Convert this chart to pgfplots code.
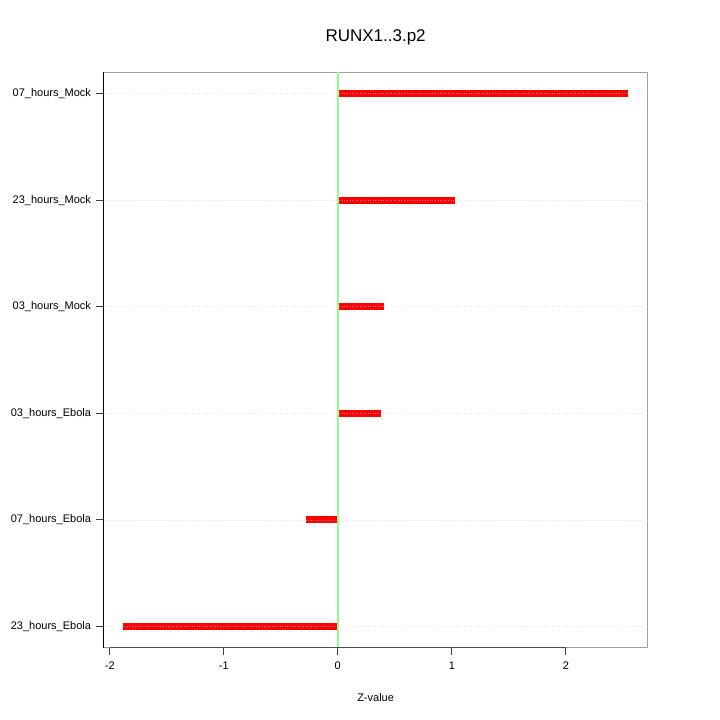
\documentclass[border=0pt]{standalone}
\usepackage{pgfplots}
\pgfplotsset{compat=1.18}
\usepackage{fontspec}
\setmainfont{Liberation Sans}
\definecolor{gridc}{RGB}{215,215,215}
\definecolor{boxc}{RGB}{160,160,160}
\definecolor{zgreen}{RGB}{140,255,140}
\begin{document}
\begin{tikzpicture}
\path[use as bounding box] (0,0) rectangle (720bp,720bp);
\begin{axis}[
  at={(103.5bp,72.3bp)}, anchor=south west,
  scale only axis, width=544.2bp, height=575.4bp,
  xmin=-2.055, xmax=2.718, ymin=0.8, ymax=6.2,
  axis line style={boxc, line width=1pt},
  xtick={-2,-1,0,1,2},
  ytick={1,2,3,4,5,6},
  yticklabels={23\_hours\_Ebola,07\_hours\_Ebola,03\_hours\_Ebola,03\_hours\_Mock,23\_hours\_Mock,07\_hours\_Mock},
  tick align=outside, tick pos=left,
  major tick length=7bp,
  tick style={black!75, line width=0.8pt},
  /pgf/number format/assume math mode=true,
  ticklabel style={font=\fontsize{11bp}{13bp}\selectfont},
  xticklabel style={yshift=-4bp},
  yticklabel style={xshift=-2bp},
  title={RUNX1..3.p2},
  title style={font=\fontsize{17bp}{20bp}\selectfont, at={(0.5,1)}, yshift=18bp, anchor=south},
  xlabel={Z-value},
  xlabel style={font=\fontsize{11bp}{13bp}\selectfont, yshift=-17bp},
  clip=false,
]
\addplot[red, line width=7.3bp, xcomb] coordinates {
  (-1.88,1) (-0.275,2) (0.383,3) (0.407,4) (1.032,5) (2.542,6)
};
\addplot[gridc, dotted, line width=0.6pt, opacity=0.6, forget plot] coordinates {(-2.055,1) (2.718,1)};
\addplot[gridc, dotted, line width=0.6pt, opacity=0.6, forget plot] coordinates {(-2.055,2) (2.718,2)};
\addplot[gridc, dotted, line width=0.6pt, opacity=0.6, forget plot] coordinates {(-2.055,3) (2.718,3)};
\addplot[gridc, dotted, line width=0.6pt, opacity=0.6, forget plot] coordinates {(-2.055,4) (2.718,4)};
\addplot[gridc, dotted, line width=0.6pt, opacity=0.6, forget plot] coordinates {(-2.055,5) (2.718,5)};
\addplot[gridc, dotted, line width=0.6pt, opacity=0.6, forget plot] coordinates {(-2.055,6) (2.718,6)};
\addplot[zgreen, line width=1.5bp] coordinates {(0,0.8) (0,6.2)};
\draw[black, line width=0.8pt] (axis cs:-2.055,0.8) -- (axis cs:-2.055,6.2);
\draw[black!70, line width=0.8pt] (axis cs:-2,0.8) -- (axis cs:2,0.8);
\end{axis}
\end{tikzpicture}
\end{document}
